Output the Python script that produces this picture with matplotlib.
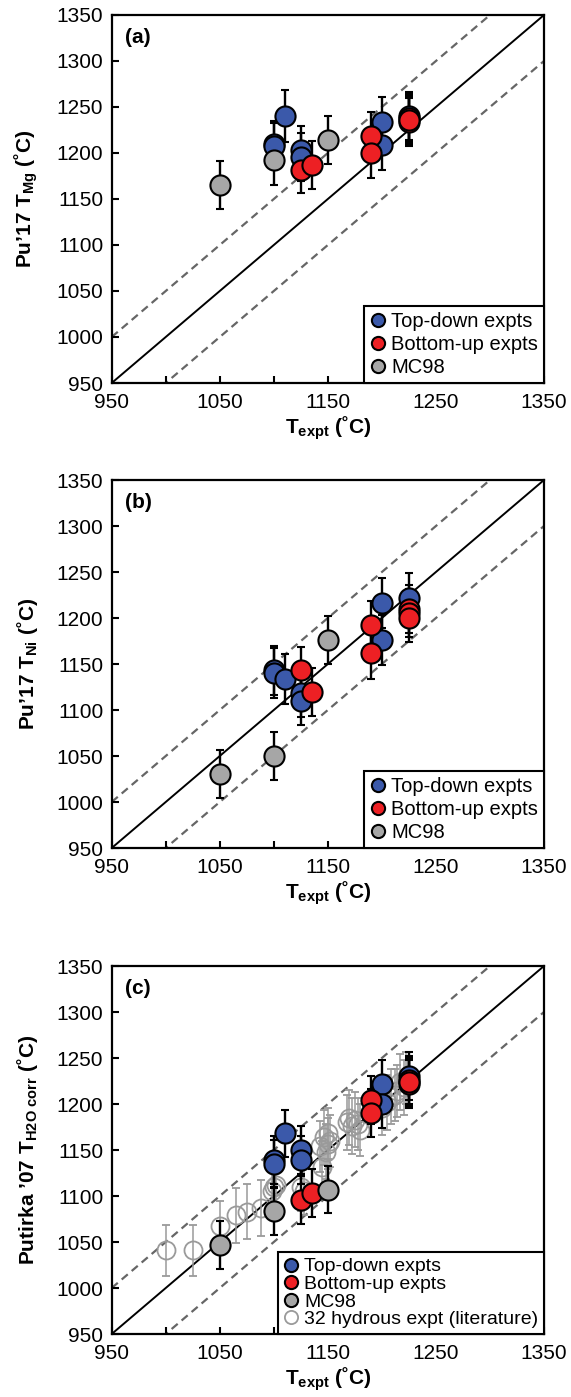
import numpy as np
import matplotlib
matplotlib.use("Agg")
import matplotlib.pyplot as plt
from matplotlib.lines import Line2D
from matplotlib.ticker import FixedLocator

plt.rcParams['font.family'] = ['Liberation Sans', 'DejaVu Sans']
plt.rcParams['mathtext.fontset'] = 'custom'
plt.rcParams['mathtext.rm'] = 'Liberation Sans'
plt.rcParams['mathtext.bf'] = 'Liberation Sans:bold'
plt.rcParams['mathtext.it'] = 'Liberation Sans:italic'

# experiment temperatures (C)
td_T = [1100, 1100, 1110, 1125, 1125, 1200, 1200, 1225]
bu_T = [1125, 1135, 1190, 1190, 1225, 1225, 1225]
mc_T = [1050, 1100, 1150]

# (a) Pu'17 T_Mg
td_Mg = [1210, 1208, 1240, 1203, 1196, 1234, 1209, 1240]
td_Mg_err = [25, 25, 28, 26, 26, 27, 27, 26]
bu_Mg = [1182, 1187, 1219, 1200, 1238, 1234, 1236]
bu_Mg_err = [26, 26, 26, 27, 26, 26, 26]
mc_Mg = [1165, 1192, 1214]
mc_Mg_err = [26, 27, 26]

# (b) Pu'17 T_Ni
td_Ni = [1143, 1140, 1134, 1118, 1110, 1216, 1176, 1222]
td_Ni_err = [27, 27, 27, 26, 26, 27, 27, 27]
bu_Ni = [1143, 1120, 1192, 1162, 1210, 1205, 1200]
bu_Ni_err = [26, 26, 27, 28, 26, 26, 26]
mc_Ni = [1030, 1050, 1176]
mc_Ni_err = [26, 26, 26]

# (c) Putirka '07 T_H2O corr
td_P07 = [1139, 1135, 1168, 1150, 1139, 1222, 1200, 1230]
td_P07_err = [26, 26, 26, 26, 26, 26, 26, 26]
bu_P07 = [1096, 1103, 1204, 1190, 1226, 1222, 1224]
bu_P07_err = [26, 26, 26, 26, 26, 26, 26]
mc_P07 = [1047, 1084, 1107]
mc_P07_err = [26, 26, 26]

# literature hydrous experiments
hy_T = [1000, 1025, 1050, 1065, 1075, 1088, 1098, 1100, 1102, 1125, 1128,
        1143, 1145, 1146, 1148, 1150, 1150, 1152, 1168, 1170, 1172, 1175,
        1178, 1180, 1200, 1205, 1208, 1212, 1214, 1217, 1220, 1222]
hy_P07 = [1041, 1041, 1067, 1079, 1083, 1087, 1105, 1110, 1112, 1110, 1105,
          1154, 1132, 1164, 1148, 1157, 1168, 1160, 1180, 1185, 1176, 1183,
          1178, 1172, 1196, 1202, 1208, 1210, 1214, 1224, 1218, 1228]
hy_err = [28, 28, 28, 30, 30, 30, 28, 28, 28, 26, 26,
          28, 28, 30, 30, 28, 28, 28, 30, 30, 30, 30,
          28, 28, 30, 30, 30, 28, 28, 30, 30, 28]

BLUE = '#3b59aa'
RED = '#ed2024'
GRAY = '#a6a6a6'
HOLLOW = '#9a9a9a'

W, H = 571, 1397
L, AW = 111.7 / W, 432.3 / W
AH = 368 / H


def panel(ax, td_y, td_e, bu_y, bu_e, mc_y, mc_e, ylab, tag, hydrous=False):
    lim = [950, 1350]
    ax.plot(lim, lim, color='k', lw=1.4, zorder=1)
    for off in (-50, 50):
        ax.plot(lim, [lim[0] + off, lim[1] + off], ls=(0, (3.6, 2.3)),
                color='#666666', lw=1.6, zorder=1)

    if hydrous:
        ax.errorbar(hy_T, hy_P07, yerr=hy_err, fmt='o', ms=13, mfc='none',
                    mec=HOLLOW, mew=1.3, ecolor=HOLLOW, elinewidth=1.1,
                    capsize=3, capthick=1.1, zorder=2)

    kw = dict(fmt='o', ms=14.5, mec='k', mew=1.5, ecolor='k', elinewidth=1.7,
              capsize=3, capthick=1.7, zorder=3)
    ax.errorbar(td_T, td_y, yerr=td_e, mfc=BLUE, **kw)
    ax.errorbar(bu_T, bu_y, yerr=bu_e, mfc=RED, **kw)
    ax.errorbar(mc_T, mc_y, yerr=mc_e, mfc=GRAY, **kw)

    ax.set_xlim(lim)
    ax.set_ylim(lim)
    ax.set_xticks([950, 1050, 1150, 1250, 1350])
    ax.xaxis.set_minor_locator(FixedLocator([1000, 1100, 1200, 1300]))
    ax.set_yticks(np.arange(950, 1351, 50))
    ax.tick_params(which='both', direction='in', length=5, width=1.5,
                   labelsize=15, top=False, right=False)
    ax.tick_params(axis='x', pad=7)
    ax.tick_params(axis='y', pad=6)
    for s in ax.spines.values():
        s.set_linewidth(1.6)

    ax.set_xlabel(r'T$_{\mathbf{expt}}$ (˚C)', fontsize=15, fontweight='bold',
                  labelpad=2)
    ax.set_ylabel(ylab, fontsize=15, fontweight='bold', labelpad=12)
    ax.text(0.03, 0.94, tag, transform=ax.transAxes, fontsize=15,
            fontweight='bold', va='center', ha='left')

    mk = dict(marker='o', ls='none', ms=9.5, mec='k', mew=1.5)
    handles = [Line2D([], [], mfc=BLUE, **mk),
               Line2D([], [], mfc=RED, **mk),
               Line2D([], [], mfc=GRAY, **mk)]
    labels = ['Top-down expts', 'Bottom-up expts', 'MC98']
    if hydrous:
        handles.append(Line2D([], [], marker='o', ls='none', ms=9.5,
                              mfc='none', mec=HOLLOW, mew=1.3))
        labels.append('32 hydrous expt (literature)')
        spacing, fs = 0.0, 14
    else:
        spacing, fs = 0.2, 14.5
    leg = ax.legend(handles, labels, loc='lower right', borderaxespad=0,
                    fontsize=fs, handlelength=0.8, handletextpad=0.25,
                    borderpad=0.3, labelspacing=spacing, fancybox=False,
                    framealpha=1, edgecolor='k')
    leg.get_frame().set_linewidth(1.5)


fig = plt.figure(figsize=(W / 100, H / 100), dpi=100)
ax_a = fig.add_axes([L, 1 - 383 / H, AW, AH])
ax_b = fig.add_axes([L, 1 - 848 / H, AW, AH])
ax_c = fig.add_axes([L, 1 - 1334 / H, AW, AH])

panel(ax_a, td_Mg, td_Mg_err, bu_Mg, bu_Mg_err, mc_Mg, mc_Mg_err,
      r'Pu’17 T$_{\mathbf{Mg}}$ (˚C)', '(a)')
panel(ax_b, td_Ni, td_Ni_err, bu_Ni, bu_Ni_err, mc_Ni, mc_Ni_err,
      r'Pu’17 T$_{\mathbf{Ni}}$ (˚C)', '(b)')
panel(ax_c, td_P07, td_P07_err, bu_P07, bu_P07_err, mc_P07, mc_P07_err,
      r'Putirka ’07 T$_{\mathbf{H2O\ corr}}$ (˚C)', '(c)', hydrous=True)

fig.savefig('out.png', dpi=100)
